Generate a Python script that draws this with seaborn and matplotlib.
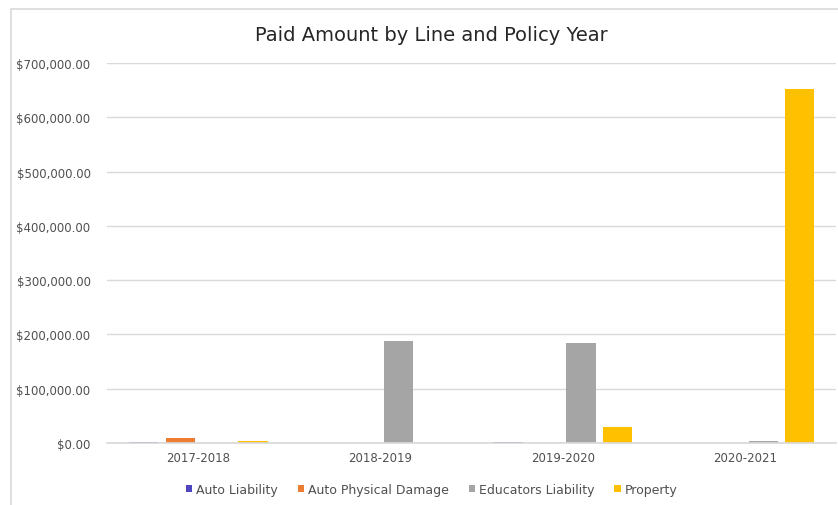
import matplotlib
matplotlib.use("Agg")
import matplotlib.pyplot as plt
import matplotlib.ticker as mticker
from matplotlib.patches import Rectangle, Patch
import seaborn as sns
import pandas as pd

years = ["2017-2018", "2018-2019", "2019-2020", "2020-2021"]
lines = ["Auto Liability", "Auto Physical Damage", "Educators Liability", "Property"]
auto_liability = [1800, 0, 1800, 0]
auto_physical_damage = [9000, 0, 0, 0]
educators_liability = [0, 187000, 185000, 4500]
property_vals = [4500, 0, 29500, 653000]
colors = ["#4F45C0", "#ED7D31", "#A5A5A5", "#FFC000"]

series = [auto_liability, auto_physical_damage, educators_liability, property_vals]
rows = []
for name, vals in zip(lines, series):
    for y, v in zip(years, vals):
        rows.append({"Year": y, "Line": name, "Paid": v})
df = pd.DataFrame(rows)

sns.set_theme(style="white")
plt.rcParams['font.family'] = ['DejaVu Sans']

fig = plt.figure(figsize=(8.38, 5.06), dpi=100)
ax = fig.add_axes([0.128, 0.1225, 0.8696, 0.751])

sns.barplot(data=df, x="Year", y="Paid", hue="Line", order=years, hue_order=lines,
            palette=colors, width=0.8, gap=0.2, ax=ax, legend=False, saturation=1,
            errorbar=None, linewidth=0, edgecolor="none")

ax.set_ylim(0, 700000)
ax.yaxis.set_major_locator(mticker.MultipleLocator(100000))
ax.yaxis.set_major_formatter(mticker.FuncFormatter(lambda v, p: f"${v:,.2f}"))
ax.grid(axis="y", color="#d9d9d9", linewidth=1)
ax.set_axisbelow(True)
for s in ["top", "right", "left"]:
    ax.spines[s].set_visible(False)
ax.spines["bottom"].set_color("#d9d9d9")
ax.tick_params(axis="both", length=0, labelsize=8.5, colors="#505050")
ax.tick_params(axis="y", pad=12)
ax.tick_params(axis="x", pad=6)
ax.set_xlabel("")
ax.set_ylabel("")

fig.text(0.515, 0.93, "Paid Amount by Line and Policy Year", ha="center", va="center",
         fontsize=14, color="#262626")

handles = [Patch(facecolor=c, edgecolor="none") for c in colors]
fig.legend(handles, lines, loc="center", bbox_to_anchor=(0.515, 0.031), ncol=4,
           frameon=False, fontsize=9, handlelength=0.5, handleheight=0.5,
           handletextpad=0.3, columnspacing=1.6, labelcolor="#505050")

fig.patches.append(Rectangle((11 / 838, -0.01), 1.0, 1 - 10 / 506 + 0.01,
                             transform=fig.transFigure, fill=False,
                             edgecolor="#d9d9d9", linewidth=1.2))

fig.savefig("out.png", dpi=100)
